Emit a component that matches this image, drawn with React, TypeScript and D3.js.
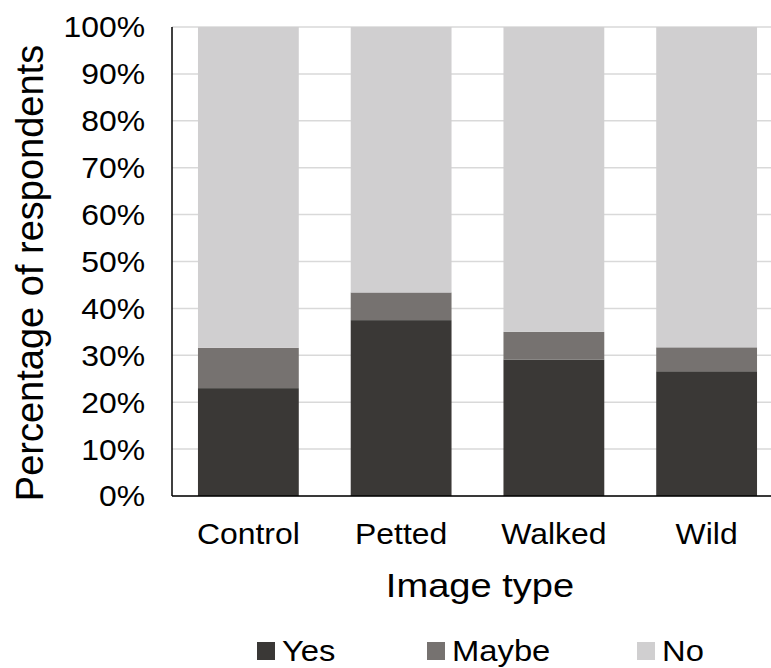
import React from "react";
import * as d3 from "d3";

const categories = ["Control", "Petted", "Walked", "Wild"];
const yesValues = [23.0, 37.5, 29.1, 26.6];
const maybeValues = [8.6, 5.9, 5.9, 5.1];
const seriesNames = ["Yes", "Maybe", "No"];
const seriesColors = ["#3a3836", "#767270", "#d0cfd0"];
const yTicks = [0, 10, 20, 30, 40, 50, 60, 70, 80, 90, 100];

const W = 771;
const H = 668;
const left = 172;
const right = 783;
const top = 27;
const bottom = 496;
const SX = 1.1;
const FONT = "'Liberation Sans', Arial, sans-serif";

export default function App() {
  const rows = categories.map((c, i) => ({
    cat: c,
    Yes: yesValues[i],
    Maybe: maybeValues[i],
    No: 100 - yesValues[i] - maybeValues[i],
  }));
  const stack = d3.stack<any>().keys(seriesNames)(rows);
  const x = d3.scaleBand().domain(categories).range([left, right]).paddingInner(0.34).paddingOuter(0.17);
  const y = d3.scaleLinear().domain([0, 100]).range([bottom, top]);
  const color = d3.scaleOrdinal<string, string>().domain(seriesNames).range(seriesColors);

  const legendX = [257, 427, 637];

  return (
    <svg width={W} height={H} style={{ position: "absolute", left: 0, top: 0, background: "#fff" }} fontFamily={FONT}>
      {yTicks.map((t) => (
        <line key={"g" + t} x1={left} x2={W} y1={y(t)} y2={y(t)} stroke="#d9d9d9" strokeWidth={1.5} />
      ))}
      {stack.map((s) => (
        <g key={s.key} fill={color(s.key)}>
          {s.map((d, i) => (
            <rect key={i} x={x(categories[i])} width={x.bandwidth()} y={y(d[1])} height={y(d[0]) - y(d[1])} />
          ))}
        </g>
      ))}
      <line x1={left} x2={left} y1={top} y2={bottom} stroke="#000" strokeWidth={1.5} />
      <line x1={left} x2={W} y1={bottom} y2={bottom} stroke="#000" strokeWidth={1.5} />
      {yTicks.map((t) => (
        <text key={"t" + t} transform={`translate(145,${y(t)}) scale(${SX},1)`} dy="0.36em" textAnchor="end" fontSize={29} fill="#000">
          {t}%
        </text>
      ))}
      {categories.map((c) => (
        <text key={c} transform={`translate(${(x(c) as number) + x.bandwidth() / 2},544) scale(${SX},1)`} textAnchor="middle" fontSize={29} fill="#000">
          {c}
        </text>
      ))}
      <text transform={`translate(480,597) scale(1.12,1)`} textAnchor="middle" fontSize={34} fill="#000">
        Image type
      </text>
      <text transform={`translate(43,273) rotate(-90)`} textAnchor="middle" fontSize={38} fill="#000">
        Percentage of respondents
      </text>
      {seriesNames.map((n, i) => (
        <g key={n}>
          <rect x={legendX[i]} y={642} width={18} height={18} fill={color(n)} />
          <text transform={`translate(${legendX[i] + 25},661) scale(1.13,1)`} fontSize={29} fill="#000">
            {n}
          </text>
        </g>
      ))}
    </svg>
  );
}
